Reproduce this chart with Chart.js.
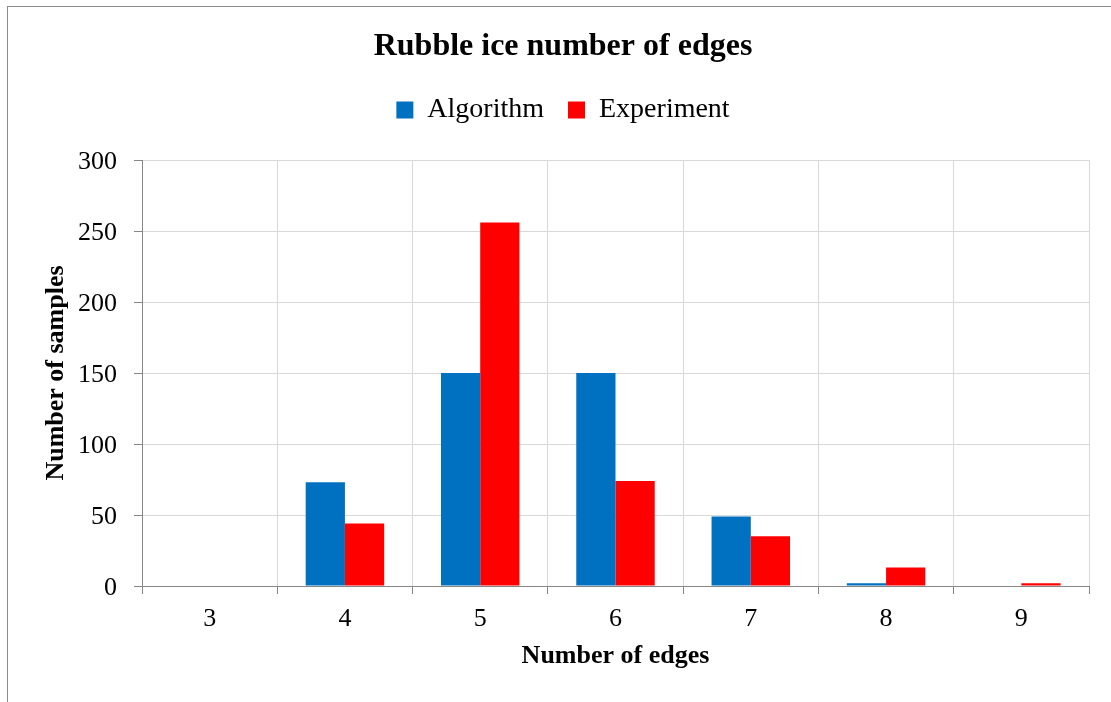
<!DOCTYPE html>
<html>
<head>
<meta charset="utf-8">
<script src="https://cdn.jsdelivr.net/npm/chart.js@4.4.1/dist/chart.umd.min.js"></script>
<style>
  html, body { margin: 0; padding: 0; background: #fff; }
  #wrap { position: relative; width: 1111px; height: 702px; }
</style>
</head>
<body>
<div id="wrap"><canvas id="chart" width="1111" height="702"></canvas></div>
<script>
// Edge counts of rubble ice floes
const categories = ['3', '4', '5', '6', '7', '8', '9'];
const algorithm = [0, 73, 150, 150, 49, 2, 0];
const experiment = [0, 44, 256, 74, 35, 13, 2];
const yTicks = { min: 0, max: 300, step: 50 };

const AXIS_GRAY = '#868686';
const GRID_GRAY = '#d9d9d9';

Chart.defaults.font.family = "'Liberation Serif', 'Times New Roman', serif";
Chart.defaults.color = '#000';

// white page with a thin frame along the top and left edges
const framePlugin = {
  id: 'frame',
  beforeDraw(chart) {
    const ctx = chart.ctx;
    ctx.save();
    ctx.fillStyle = '#fff';
    ctx.fillRect(0, 0, chart.width, chart.height);
    ctx.strokeStyle = '#8c8c8c';
    ctx.lineWidth = 1;
    ctx.strokeRect(7.5, 6.5, chart.width + 50, chart.height + 50);
    ctx.restore();
  }
};

// extra room under the legend row
const legendSpacer = {
  id: 'legendSpacer',
  beforeInit(chart) {
    const origFit = chart.legend.fit;
    chart.legend.fit = function () {
      origFit.call(this);
      this.height += 26;
    };
  }
};

new Chart(document.getElementById('chart'), {
  type: 'bar',
  data: {
    labels: categories,
    datasets: [
      {
        label: 'Algorithm',
        data: algorithm,
        backgroundColor: '#0070C0',
        borderWidth: 0,
        categoryPercentage: 0.58,
        barPercentage: 1.0
      },
      {
        label: 'Experiment',
        data: experiment,
        backgroundColor: '#FF0000',
        borderWidth: 0,
        categoryPercentage: 0.58,
        barPercentage: 1.0
      }
    ]
  },
  options: {
    responsive: false,
    animation: false,
    layout: { padding: { left: 37, right: 22, top: 0, bottom: 0 } },
    plugins: {
      title: {
        display: true,
        text: 'Rubble ice number of edges',
        font: { size: 32, weight: 'bold' },
        color: '#000',
        padding: { top: 28, bottom: 5.6 }
      },
      legend: {
        position: 'top',
        labels: {
          font: { size: 28 },
          color: '#000',
          boxWidth: 17,
          boxHeight: 17,
          padding: 24
        }
      },
      tooltip: { enabled: false }
    },
    scales: {
      x: {
        grid: {
          offset: true,
          color: GRID_GRAY,
          tickColor: AXIS_GRAY,
          tickLength: 8,
          drawTicks: true
        },
        border: { color: AXIS_GRAY },
        ticks: { font: { size: 26 }, color: '#000', padding: 10 },
        title: {
          display: true,
          text: 'Number of edges',
          font: { size: 26, weight: 'bold' },
          color: '#000',
          padding: { top: 0, bottom: 30 }
        },
        afterFit(scale) { scale.height = 116; }
      },
      y: {
        min: yTicks.min,
        max: yTicks.max,
        grid: {
          color: GRID_GRAY,
          tickColor: AXIS_GRAY,
          tickLength: 8
        },
        border: { color: AXIS_GRAY },
        ticks: { stepSize: yTicks.step, font: { size: 26 }, color: '#000', padding: 17, labelOffset: 2 },
        title: {
          display: true,
          text: 'Number of samples',
          font: { size: 26, weight: 'bold' },
          color: '#000',
          padding: { top: 4, bottom: 0 }
        },
        afterFit(scale) { scale.width = 105; }
      }
    }
  },
  plugins: [framePlugin, legendSpacer]
});
</script>
</body>
</html>
